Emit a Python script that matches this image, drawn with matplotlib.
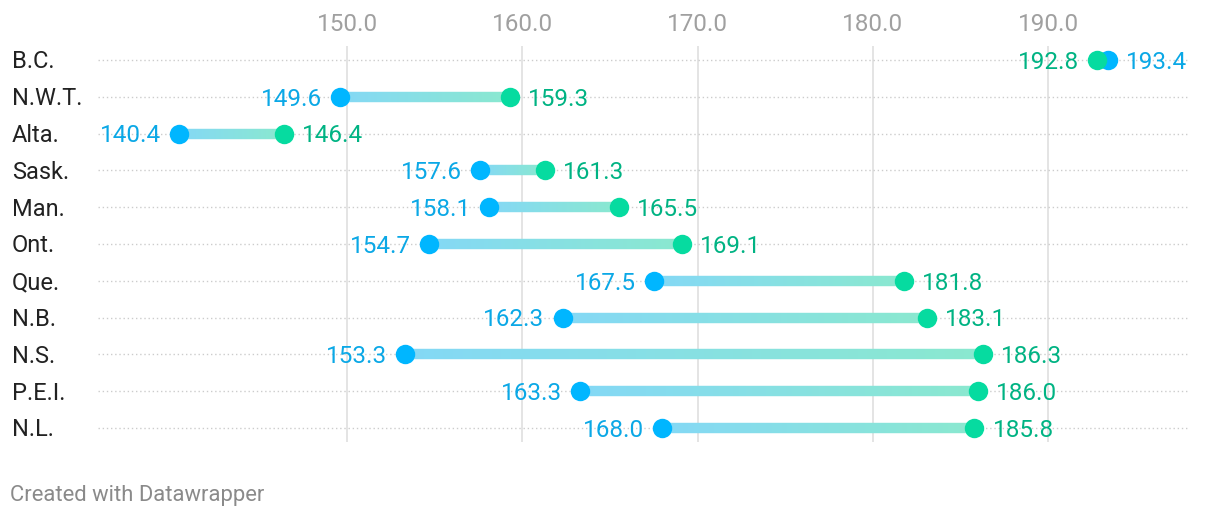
import numpy as np
import matplotlib
matplotlib.use("Agg")
import matplotlib.pyplot as plt
from matplotlib.collections import LineCollection
from matplotlib.colors import to_rgb

categories = ["B.C.", "N.W.T.", "Alta.", "Sask.", "Man.", "Ont.", "Que.", "N.B.", "N.S.", "P.E.I.", "N.L."]
start_vals = [193.4, 149.6, 140.4, 157.6, 158.1, 154.7, 167.5, 162.3, 153.3, 163.3, 168.0]
end_vals = [192.8, 159.3, 146.4, 161.3, 165.5, 169.1, 181.8, 183.1, 186.3, 186.0, 185.8]
xticks = [150.0, 160.0, 170.0, 180.0, 190.0]

plt.rcParams['font.family'] = ['Roboto', 'DejaVu Sans']

W, H = 1220, 520
fig = plt.figure(figsize=(W / 100, H / 100), dpi=100)
ax_l, ax_r, ax_t, ax_b = 98, 1188, 46, 442
ax = fig.add_axes([ax_l / W, 1 - ax_b / H, (ax_r - ax_l) / W, (ax_b - ax_t) / H])

px_per = (1048 - 347) / 40.0
x0 = 150 - (347 - ax_l) / px_per
x1 = 190 + (ax_r - 1048) / px_per
ax.set_xlim(x0, x1)
row_sp = (428 - 60) / 10.0
ax.set_ylim(10 + (ax_b - 428) / row_sp, -(60 - ax_t) / row_sp)

for s in ax.spines.values():
    s.set_visible(False)
ax.set_yticks([])
ax.xaxis.tick_top()
ax.set_xticks(xticks)
ax.set_xticklabels([f"{t:.1f}" for t in xticks])
ax.tick_params(axis='x', length=0, pad=7.5, labelsize=17.5, labelcolor='#a0a0a0')

for t in xticks:
    ax.axvline(t, color='#e2e2e2', lw=1.3, zorder=0)

blue = '#00b6ff'
green = '#06dba0'
blue_txt = '#0ba8e6'
green_txt = '#00b383'
bar_blue = np.array(to_rgb('#84d8f5'))
bar_green = np.array(to_rgb('#8ae8cf'))

fs = 17.5
dy = -1.6
for i, (cat, s, e) in enumerate(zip(categories, start_vals, end_vals)):
    ax.plot([x0, x1], [i, i], color='#cccccc', lw=1.0, ls=(0, (1, 2)), zorder=1)
    fig.text(12 / W, 1 - (62 + i * row_sp) / H, cat, fontsize=17, color='#222222',
             va='center', ha='left')
    n = 60
    xs = np.linspace(s, e, n + 1)
    segs = [[(xs[k], i), (xs[k + 1], i)] for k in range(n)]
    cols = [tuple(bar_blue + (bar_green - bar_blue) * (k / (n - 1))) for k in range(n)]
    lc = LineCollection(segs, colors=cols, linewidths=7.5, zorder=2, capstyle='butt')
    ax.add_collection(lc)
    ax.plot([s], [i], 'o', color=blue, ms=14, mew=0, zorder=3)
    ax.plot([e], [i], 'o', color=green, ms=14, mew=0, zorder=4)
    if s <= e:
        ax.annotate(f"{s:.1f}", (s, i), xytext=(-13, dy), textcoords='offset points',
                    ha='right', va='center', fontsize=fs, color=blue_txt)
        ax.annotate(f"{e:.1f}", (e, i), xytext=(13, dy), textcoords='offset points',
                    ha='left', va='center', fontsize=fs, color=green_txt)
    else:
        ax.annotate(f"{e:.1f}", (e, i), xytext=(-13, dy), textcoords='offset points',
                    ha='right', va='center', fontsize=fs, color=green_txt)
        ax.annotate(f"{s:.1f}", (s, i), xytext=(13, dy), textcoords='offset points',
                    ha='left', va='center', fontsize=fs, color=blue_txt)

fig.text(10 / W, 1 - 496 / H, "Created with Datawrapper", fontsize=15.8, color='#8a8a8a',
         va='center', ha='left')

fig.savefig("out.png", dpi=100)
